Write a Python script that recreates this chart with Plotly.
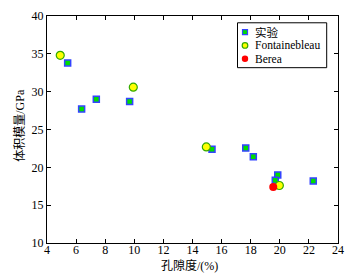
import plotly.graph_objects as go

exp_x = [5.42, 6.38, 7.39, 9.68, 15.34, 17.66, 18.18, 19.86, 19.69, 22.3]
exp_y = [33.8, 27.7, 29.0, 28.7, 22.4, 22.55, 21.4, 19.0, 18.28, 18.2]
fon_x = [4.91, 9.93, 14.95, 19.97]
fon_y = [34.8, 30.6, 22.7, 17.6]
ber_x = [19.55]
ber_y = [17.4]

x_ticks = [4, 6, 8, 10, 12, 14, 16, 18, 20, 22, 24]
y_ticks = [10, 15, 20, 25, 30, 35, 40]
series_names = ["实验", "Fontainebleau", "Berea"]

font = "Liberation Serif"
cjk = "Liberation Serif, Noto Sans CJK SC"

# page body has a default 8px margin: compensate so the screenshot matches
OFF = 8
W, H = 361 - OFF, 280 - OFF
# desired plot area in screenshot pixels: x 47..338, y 15..243
L, T = 47 - OFF, 15.5 - OFF
R = W - (338 - OFF)
B = H - (243 - OFF)
PW, PH = W - L - R, H - T - B


def fx(px):
    return (px - OFF - L) / PW


def fy(py):
    return (H - B - (py - OFF)) / PH


sq_style = dict(color="#00dd00", line=dict(color="#3344ff", width=1.5))
fo_style = dict(color="#ffff00", line=dict(color="#33aa00", width=1.2))
be_style = dict(color="#ff0000", line=dict(color="#ff0000", width=0))

fig = go.Figure()
fig.add_trace(go.Scatter(x=exp_x, y=exp_y, mode="markers", name=series_names[0],
                         marker=dict(symbol="square", size=6, **sq_style)))
fig.add_trace(go.Scatter(x=fon_x, y=fon_y, mode="markers", name=series_names[1],
                         marker=dict(symbol="circle", size=8, **fo_style)))
fig.add_trace(go.Scatter(x=ber_x, y=ber_y, mode="markers", name=series_names[2],
                         marker=dict(symbol="circle", size=8, **be_style)))

axis_common = dict(showgrid=False, zeroline=False, showline=True, linecolor="black",
                   linewidth=1, mirror="allticks", ticks="inside", ticklen=4,
                   tickcolor="black", automargin=False, ticklabeloverflow="allow",
                   tickfont=dict(family=font, size=12, color="black"))

# compact legend box
shapes = [dict(type="rect", xref="paper", yref="paper",
               x0=fx(237.5), x1=fx(326.7), y0=fy(67.3), y1=fy(22.3),
               line=dict(color="black", width=1), fillcolor="white", layer="above")]
rows_y = [31.7, 45, 58.3]
sym_x = 245
shapes.append(dict(type="rect", xref="paper", yref="paper", xsizemode="pixel", ysizemode="pixel",
                   xanchor=fx(sym_x), yanchor=fy(rows_y[0]), x0=-2.5, x1=2.5, y0=-2.5, y1=2.5,
                   fillcolor=sq_style["color"], line=dict(color="#3344ff", width=1.2), layer="above"))
shapes.append(dict(type="circle", xref="paper", yref="paper", xsizemode="pixel", ysizemode="pixel",
                   xanchor=fx(sym_x), yanchor=fy(rows_y[1]), x0=-2.8, x1=2.8, y0=-2.8, y1=2.8,
                   fillcolor=fo_style["color"], line=dict(color="#33aa00", width=1.2), layer="above"))
shapes.append(dict(type="circle", xref="paper", yref="paper", xsizemode="pixel", ysizemode="pixel",
                   xanchor=fx(sym_x), yanchor=fy(rows_y[2]), x0=-3.2, x1=3.2, y0=-3.2, y1=3.2,
                   fillcolor=be_style["color"], line=dict(color="#ff0000", width=0), layer="above"))

annotations = []
for name, ry in zip(series_names, rows_y):
    annotations.append(dict(text=name, xref="paper", yref="paper", x=fx(252.5), y=fy(ry),
                            xanchor="left", yanchor="middle", showarrow=False,
                            font=dict(family=cjk, size=11.5, color="black")))
annotations.append(dict(text="孔隙度/(%)", xref="paper", yref="paper", x=fx(189.5), y=fy(266),
                        xanchor="center", yanchor="middle", showarrow=False,
                        font=dict(family=cjk, size=12, color="black")))
annotations.append(dict(text="体积模量/GPa", xref="paper", yref="paper", x=fx(20), y=fy(125.5),
                        xanchor="center", yanchor="middle", showarrow=False, textangle=-90,
                        font=dict(family=cjk, size=12, color="black")))

fig.update_layout(
    width=W, height=H,
    margin=dict(l=L, r=R, t=T, b=B, pad=0),
    paper_bgcolor="white", plot_bgcolor="white",
    font=dict(family=font, size=12, color="black"),
    xaxis=dict(range=[4, 24], tickvals=x_ticks, ticklabelstandoff=-4, **axis_common),
    yaxis=dict(range=[10, 40], tickvals=y_ticks, ticklabelstandoff=0, **axis_common),
    shapes=shapes,
    annotations=annotations,
    showlegend=False,
)

fig.write_html("out.html")
